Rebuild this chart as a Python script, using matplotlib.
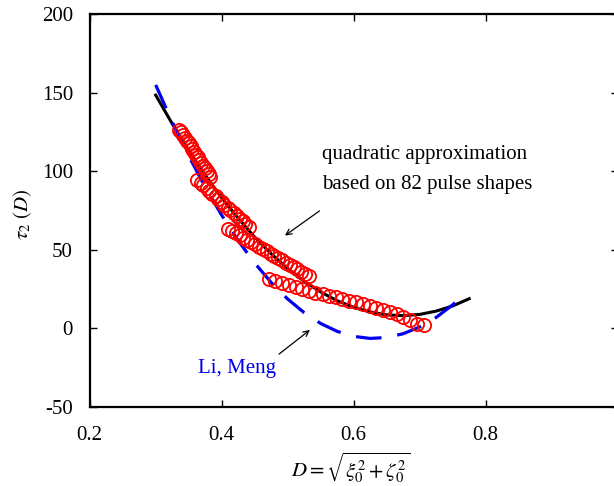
import matplotlib
matplotlib.use('Agg')
import matplotlib.pyplot as plt
from matplotlib.ticker import FuncFormatter

plt.rcParams['font.family'] = ['Liberation Serif', 'DejaVu Serif']
plt.rcParams['mathtext.fontset'] = 'stix'
plt.rcParams['axes.unicode_minus'] = False

# quadratic fit (black solid)
fit_D = [0.300, 0.325, 0.350, 0.375, 0.400, 0.425, 0.450, 0.475, 0.500, 0.525,
         0.550, 0.575, 0.600, 0.625, 0.650, 0.675, 0.700, 0.725, 0.750, 0.775]
fit_tau = [148.5, 130.3, 113.3, 97.5, 83.1, 70.0, 58.0, 47.4, 38.0, 29.9,
           23.1, 17.5, 13.3, 10.3, 8.5, 8.0, 8.8, 10.9, 14.2, 18.8]

# Li, Meng (blue dashed)
lm_D = [0.300, 0.325, 0.350, 0.375, 0.400, 0.425, 0.450, 0.475, 0.500, 0.525,
        0.550, 0.575, 0.600, 0.625, 0.650, 0.675, 0.700, 0.725, 0.750, 0.765]
lm_tau = [155.0, 131.5, 109.8, 89.9, 72.0, 55.8, 41.5, 29.1, 18.6, 9.9,
          3.0, -2.0, -5.2, -6.5, -5.9, -3.5, 0.8, 6.9, 14.9, 20.5]

# pulse shapes (red circles), four families
g1_D = [0.336, 0.339, 0.342, 0.344, 0.347, 0.350, 0.353, 0.355, 0.358,
        0.361, 0.364, 0.366, 0.369, 0.372, 0.375, 0.377, 0.380, 0.383]
g1_tau = [126.5, 124.7, 122.9, 121.2, 119.4, 117.7, 115.9, 114.1, 112.4,
          110.6, 108.8, 107.1, 105.3, 103.5, 101.8, 100.0, 98.3, 96.5]
g2_D = [0.363, 0.368, 0.372, 0.377, 0.381, 0.386, 0.391, 0.395, 0.400,
        0.404, 0.409, 0.413, 0.418, 0.423, 0.427, 0.432, 0.436, 0.441]
g2_tau = [94.6, 92.8, 91.1, 89.3, 87.5, 85.7, 84.0, 82.2, 80.4,
          78.7, 76.9, 75.1, 73.3, 71.6, 69.8, 68.0, 66.3, 64.5]
g3_D = [0.409, 0.415, 0.421, 0.427, 0.432, 0.438, 0.444, 0.450, 0.456, 0.462, 0.468,
        0.474, 0.479, 0.485, 0.491, 0.497, 0.503, 0.509, 0.514, 0.520, 0.526, 0.532]
g3_tau = [63.5, 62.1, 60.6, 59.2, 57.7, 56.3, 54.8, 53.4, 51.9, 50.5, 49.1,
          47.6, 46.2, 44.7, 43.3, 41.8, 40.4, 39.0, 37.5, 36.1, 34.6, 33.2]
g4_D = [0.471, 0.481, 0.491, 0.502, 0.512, 0.522, 0.532, 0.542, 0.553, 0.563, 0.573, 0.583,
        0.593, 0.604, 0.614, 0.624, 0.634, 0.645, 0.655, 0.665, 0.675, 0.685, 0.696, 0.706]
g4_tau = [31.5, 30.1, 28.9, 27.4, 26.0, 24.8, 23.9, 22.7, 21.6, 20.6, 19.6, 18.6,
          17.6, 16.5, 15.3, 14.2, 13.1, 11.9, 10.5, 9.0, 7.2, 5.2, 3.0, 2.2]

fig = plt.figure(figsize=(6.14, 4.86), dpi=100)
ax = fig.add_axes([89.7/614, 79.3/486, 528/614, 392.4/486])

ax.plot(fit_D, fit_tau, color='black', lw=2.2, zorder=2)
ax.plot(lm_D, lm_tau, color='#0000ee', lw=2.3, ls=(0, (8, 5)), zorder=3)
for gx, gy in [(g1_D, g1_tau), (g2_D, g2_tau), (g3_D, g3_tau), (g4_D, g4_tau)]:
    ax.plot(gx, gy, ls='none', marker='o', ms=9.5, mfc='none', mec='#ff0000', mew=1.3, zorder=4)

ax.set_xlim(0.2, 1.0)
ax.set_ylim(-50, 200)
ax.set_xticks([0.2, 0.4, 0.6, 0.8, 1.0])
ax.set_yticks([-50, 0, 50, 100, 150, 200])
ax.xaxis.set_major_formatter(FuncFormatter(lambda v, p: f'{v:g}'))
ax.yaxis.set_major_formatter(FuncFormatter(lambda v, p: f'{v:g}'))
ax.tick_params(direction='in', length=5, width=1, labelsize=15, top=True, right=True)
ax.tick_params(axis='x', pad=14)
ax.tick_params(axis='y', pad=12)
for s in ax.spines.values():
    s.set_linewidth(1.6)

ax.set_xlabel(r'$D = \sqrt{\xi_0^2 + \zeta_0^2}$', fontsize=15)
ax.xaxis.set_label_coords(0.495, -0.112)
ax.set_ylabel(r'$\tau_2\ (D)$', fontsize=15)
ax.yaxis.set_label_coords(-0.105, 0.49)

ax.text(0.5523, 110.4, 'quadratic approximation', fontsize=15, ha='left', va='center')
ax.text(0.5523, 91.3, 'based on 82 pulse shapes', fontsize=15, ha='left', va='center')
ax.annotate('', xy=(0.4924, 58.0), xytext=(0.5517, 75.8),
            arrowprops=dict(arrowstyle='->', color='black', lw=0.9))
ax.text(0.3636, -25.5, 'Li, Meng', fontsize=15, color='#0000ee', ha='left', va='center')
ax.annotate('', xy=(0.537, 0.0), xytext=(0.4835, -17.6),
            arrowprops=dict(arrowstyle='->', color='black', lw=0.9))

fig.savefig('out.png', dpi=100)
